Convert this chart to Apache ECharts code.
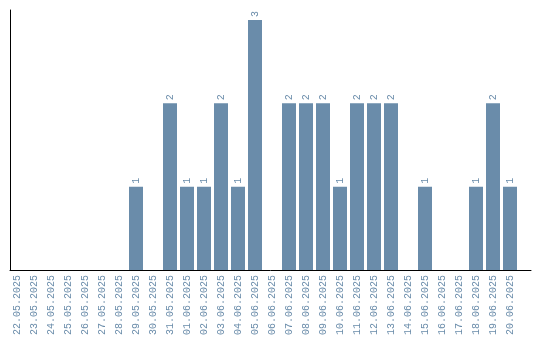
<!DOCTYPE html>
<html><head><meta charset="utf-8">
<script src="https://cdn.jsdelivr.net/npm/echarts@6/dist/echarts.min.js"></script>
<style>html,body{margin:0;padding:0;background:#fff}#c{width:540px;height:340px}</style>
</head><body><div id="c"></div>
<script>
const categories = ['22.05.2025','23.05.2025','24.05.2025','25.05.2025','26.05.2025','27.05.2025','28.05.2025','29.05.2025','30.05.2025','31.05.2025','01.06.2025','02.06.2025','03.06.2025','04.06.2025','05.06.2025','06.06.2025','07.06.2025','08.06.2025','09.06.2025','10.06.2025','11.06.2025','12.06.2025','13.06.2025','14.06.2025','15.06.2025','16.06.2025','17.06.2025','18.06.2025','19.06.2025','20.06.2025'];
const values = [0,0,0,0,0,0,0,1,0,2,1,1,2,1,3,0,2,2,2,1,2,2,2,0,1,0,0,1,2,1];
const color = '#6a8caa';
const chart = echarts.init(document.getElementById('c'), null, {renderer:'canvas'});
chart.setOption({
  animation:false,
  grid:[
    {left:8.5, width:510, top:20, bottom:70, containLabel:false},
    {left:10, right:9, top:10, bottom:70, containLabel:false}
  ],
  xAxis:[
    {type:'category', data:categories, gridIndex:0,
     axisLine:{show:false}, axisTick:{show:false},
     axisLabel:{rotate:90, interval:0, color:color, fontFamily:'Liberation Mono', fontSize:10, margin:5}},
    {type:'value', gridIndex:1, min:0, max:1, show:true,
     axisLine:{show:true, lineStyle:{color:'#000', width:1}}, axisTick:{show:false}, axisLabel:{show:false}, splitLine:{show:false}}
  ],
  yAxis:[
    {type:'value', gridIndex:0, min:0, max:3, show:false, splitLine:{show:false}},
    {type:'value', gridIndex:1, min:0, max:1,
     axisLine:{show:true, lineStyle:{color:'#000', width:1}}, axisTick:{show:false}, axisLabel:{show:false}, splitLine:{show:false}}
  ],
  series:[{
    type:'bar', data:values, xAxisIndex:0, yAxisIndex:0, barWidth:14,
    itemStyle:{color:color},
    label:{show:true, position:'top', rotate:90, align:'left', verticalAlign:'middle', distance:3,
      color:color, fontFamily:'Liberation Mono', fontSize:10,
      formatter:p=>p.value>0?String(p.value):''}
  }]
});
</script></body></html>
